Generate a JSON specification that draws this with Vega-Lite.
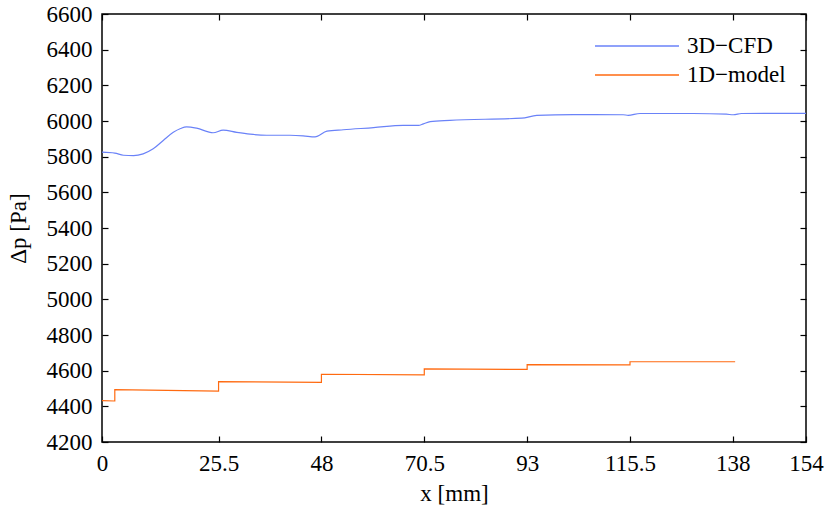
{
  "$schema": "https://vega.github.io/schema/vega-lite/v6.json",
  "width": 704,
  "height": 428,
  "autosize": {"type": "none"},
  "padding": {"left": 102, "top": 14, "right": 24, "bottom": 69},
  "background": "white",
  "config": {
    "font": "Times New Roman",
    "view": {"stroke": "black", "strokeWidth": 1.5},
    "axis": {
      "labelFont": "Times New Roman",
      "titleFont": "Times New Roman",
      "labelFontSize": 23,
      "titleFontSize": 23,
      "titleFontWeight": "normal",
      "labelColor": "black",
      "titleColor": "black",
      "grid": false,
      "domain": false,
      "tickColor": "black",
      "tickSize": -6,
      "tickWidth": 1.2
    },
    "legend": {
      "labelFont": "Times New Roman",
      "labelFontSize": 23,
      "labelColor": "black"
    }
  },
  "datasets": {
    "cfd": [
      {"x": 0, "dp": 5825, "series": "3D\u2212CFD"},
      {"x": 2.8, "dp": 5820, "series": "3D\u2212CFD"},
      {"x": 4.7, "dp": 5808, "series": "3D\u2212CFD"},
      {"x": 6.9, "dp": 5806, "series": "3D\u2212CFD"},
      {"x": 9.0, "dp": 5816, "series": "3D\u2212CFD"},
      {"x": 11.2, "dp": 5844, "series": "3D\u2212CFD"},
      {"x": 13.4, "dp": 5891, "series": "3D\u2212CFD"},
      {"x": 15.6, "dp": 5937, "series": "3D\u2212CFD"},
      {"x": 17.2, "dp": 5958, "series": "3D\u2212CFD"},
      {"x": 18.5, "dp": 5967, "series": "3D\u2212CFD"},
      {"x": 20.7, "dp": 5960, "series": "3D\u2212CFD"},
      {"x": 24.3, "dp": 5934, "series": "3D\u2212CFD"},
      {"x": 26.5, "dp": 5949, "series": "3D\u2212CFD"},
      {"x": 29.5, "dp": 5936, "series": "3D\u2212CFD"},
      {"x": 32.4, "dp": 5926, "series": "3D\u2212CFD"},
      {"x": 36.0, "dp": 5920, "series": "3D\u2212CFD"},
      {"x": 41.1, "dp": 5920, "series": "3D\u2212CFD"},
      {"x": 44.0, "dp": 5917, "series": "3D\u2212CFD"},
      {"x": 46.6, "dp": 5911, "series": "3D\u2212CFD"},
      {"x": 49.2, "dp": 5943, "series": "3D\u2212CFD"},
      {"x": 52.8, "dp": 5951, "series": "3D\u2212CFD"},
      {"x": 59.4, "dp": 5963, "series": "3D\u2212CFD"},
      {"x": 65.9, "dp": 5976, "series": "3D\u2212CFD"},
      {"x": 69.2, "dp": 5975, "series": "3D\u2212CFD"},
      {"x": 70.3, "dp": 5984, "series": "3D\u2212CFD"},
      {"x": 71.8, "dp": 5997, "series": "3D\u2212CFD"},
      {"x": 76.1, "dp": 6004, "series": "3D\u2212CFD"},
      {"x": 91.8, "dp": 6016, "series": "3D\u2212CFD"},
      {"x": 95.1, "dp": 6031, "series": "3D\u2212CFD"},
      {"x": 103.1, "dp": 6036, "series": "3D\u2212CFD"},
      {"x": 114.0, "dp": 6035, "series": "3D\u2212CFD"},
      {"x": 115.1, "dp": 6032, "series": "3D\u2212CFD"},
      {"x": 117.7, "dp": 6042, "series": "3D\u2212CFD"},
      {"x": 129.3, "dp": 6042, "series": "3D\u2212CFD"},
      {"x": 136.6, "dp": 6038, "series": "3D\u2212CFD"},
      {"x": 138.1, "dp": 6035, "series": "3D\u2212CFD"},
      {"x": 139.9, "dp": 6042, "series": "3D\u2212CFD"},
      {"x": 154, "dp": 6043, "series": "3D\u2212CFD"}
    ],
    "model": [
      {"i": 0, "x": 0, "dp": 4432, "series": "1D\u2212model"},
      {"i": 1, "x": 2.8, "dp": 4430, "series": "1D\u2212model"},
      {"i": 2, "x": 2.8, "dp": 4494, "series": "1D\u2212model"},
      {"i": 3, "x": 25.5, "dp": 4485, "series": "1D\u2212model"},
      {"i": 4, "x": 25.5, "dp": 4539, "series": "1D\u2212model"},
      {"i": 5, "x": 48, "dp": 4534, "series": "1D\u2212model"},
      {"i": 6, "x": 48, "dp": 4580, "series": "1D\u2212model"},
      {"i": 7, "x": 70.5, "dp": 4576, "series": "1D\u2212model"},
      {"i": 8, "x": 70.5, "dp": 4610, "series": "1D\u2212model"},
      {"i": 9, "x": 93, "dp": 4607, "series": "1D\u2212model"},
      {"i": 10, "x": 93, "dp": 4634, "series": "1D\u2212model"},
      {"i": 11, "x": 115.5, "dp": 4632, "series": "1D\u2212model"},
      {"i": 12, "x": 115.5, "dp": 4650, "series": "1D\u2212model"},
      {"i": 13, "x": 138.5, "dp": 4650, "series": "1D\u2212model"}
    ]
  },
  "layer": [
    {
      "data": {"name": "cfd"},
      "mark": {"type": "line", "strokeWidth": 1.2, "interpolate": "monotone"},
      "encoding": {
        "x": {
          "field": "x", "type": "quantitative",
          "scale": {"domain": [0, 154], "nice": false, "zero": false},
          "axis": {"orient": "bottom", "title": "x [mm]", "format": ".1~f", "values": [0, 25.5, 48, 70.5, 93, 115.5, 138, 154], "labelPadding": 16, "titlePadding": 7, "labelFlush": false}
        },
        "y": {
          "field": "dp", "type": "quantitative",
          "scale": {"domain": [4200, 6600], "nice": false, "zero": false},
          "axis": {"orient": "left", "title": "\u0394p [Pa]", "format": "d", "values": [4200, 4400, 4600, 4800, 5000, 5200, 5400, 5600, 5800, 6000, 6200, 6400, 6600], "labelPadding": 16, "titlePadding": 16}
        },
        "color": {
          "field": "series", "type": "nominal",
          "scale": {"domain": ["3D\u2212CFD", "1D\u2212model"], "range": ["#6a82f8", "#ff6a10"]},
          "legend": {
            "title": null, "orient": "none", "legendX": 492, "legendY": 21,
            "symbolType": "stroke", "symbolSize": 7056, "symbolStrokeWidth": 1.5,
            "clipHeight": 22, "labelOffset": 7, "rowPadding": 6, "padding": 0
          }
        }
      }
    },
    {
      "data": {"name": "model"},
      "mark": {"type": "line", "strokeWidth": 1.2},
      "encoding": {
        "x": {
          "field": "x", "type": "quantitative",
          "axis": {"orient": "top", "title": null, "labels": false, "values": [0, 25.5, 48, 70.5, 93, 115.5, 138, 154]}
        },
        "y": {
          "field": "dp", "type": "quantitative",
          "axis": {"orient": "right", "title": null, "labels": false, "values": [4200, 4400, 4600, 4800, 5000, 5200, 5400, 5600, 5800, 6000, 6200, 6400, 6600]}
        },
        "order": {"field": "i", "type": "quantitative"},
        "color": {"field": "series", "type": "nominal"}
      }
    }
  ],
  "resolve": {"axis": {"x": "independent", "y": "independent"}}
}
